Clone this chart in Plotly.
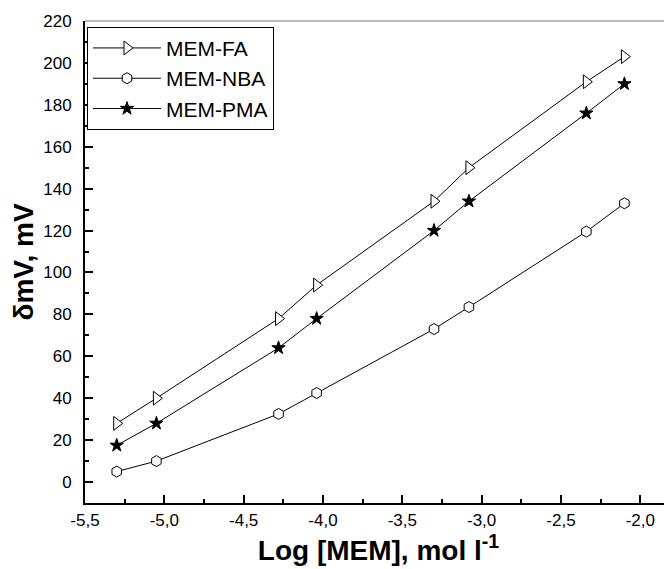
import plotly.graph_objects as go

log_conc = [-5.3, -5.05, -4.28, -4.04, -3.3, -3.08, -2.34, -2.1]
mem_fa = [28, 40, 78, 94, 134, 150, 191, 203]
mem_nba = [5, 10, 32.5, 42.5, 73, 83.5, 119.5, 133]
mem_pma = [17.5, 28, 64, 78, 120, 134, 176, 190]

x_tick_vals = [-5.5, -5.0, -4.5, -4.0, -3.5, -3.0, -2.5, -2.0]
x_tick_labels = ["-5,5", "-5,0", "-4,5", "-4,0", "-3,5", "-3,0", "-2,5", "-2,0"]

series = [
    ("MEM-FA", mem_fa, "triangle-right", "white", 12),
    ("MEM-NBA", mem_nba, "hexagon", "white", 11),
    ("MEM-PMA", mem_pma, "star", "black", 10),
]

fig = go.Figure()
for name, vals, sym, fill, size in series:
    fig.add_trace(go.Scatter(
        x=log_conc, y=vals, name=name, mode="lines+markers",
        line=dict(color="black", width=1),
        marker=dict(symbol=sym, size=size, color=fill,
                    line=dict(color="black", width=1)),
    ))

font = "Liberation Sans, Arial, sans-serif"
fig.update_layout(
    width=664, height=561,
    margin=dict(l=77, r=0, t=13, b=66),
    plot_bgcolor="white", paper_bgcolor="white",
    separators=",.",
    font=dict(family=font, color="black", size=17),
    showlegend=True,
    legend=dict(
        x=0.0034, y=0.988, xanchor="left", yanchor="top",
        bordercolor="black", borderwidth=1, bgcolor="white",
        font=dict(size=21, family=font), tracegroupgap=0,
        itemwidth=68,
    ),
    xaxis=dict(
        range=[-5.5, -1.8], tickvals=x_tick_vals, ticktext=x_tick_labels,
        automargin=False,
        showline=True, linecolor="black", linewidth=2,
        ticks="inside", ticklen=8, tickwidth=1.5, tickcolor="black",
        minor=dict(dtick=0.25, tick0=-5.5, ticks="inside", ticklen=4, tickwidth=1.5, tickcolor="black"),
        showgrid=False, zeroline=False,
        tickfont=dict(size=17), ticklabelstandoff=1,
        title=dict(text="<b>Log [MEM], mol l<sup>-1</sup></b>", font=dict(size=28), standoff=4),
    ),
    yaxis=dict(
        range=[-10, 220], tick0=0, dtick=20,
        automargin=False,
        showline=True, linecolor="black", linewidth=2,
        ticks="inside", ticklen=8, tickwidth=1.5, tickcolor="black",
        minor=dict(dtick=10, ticks="inside", ticklen=4, tickwidth=1.5, tickcolor="black"),
        showgrid=False, zeroline=False,
        tickfont=dict(size=17), ticklabelstandoff=8,
        title=dict(text="<b>δmV, mV</b>", font=dict(size=28), standoff=6),
    ),
    shapes=[dict(type="line", xref="paper", yref="paper", x0=0, x1=1, y0=1, y1=1,
                 line=dict(color="#777777", width=1))],
)

fig.write_html("out.html")
